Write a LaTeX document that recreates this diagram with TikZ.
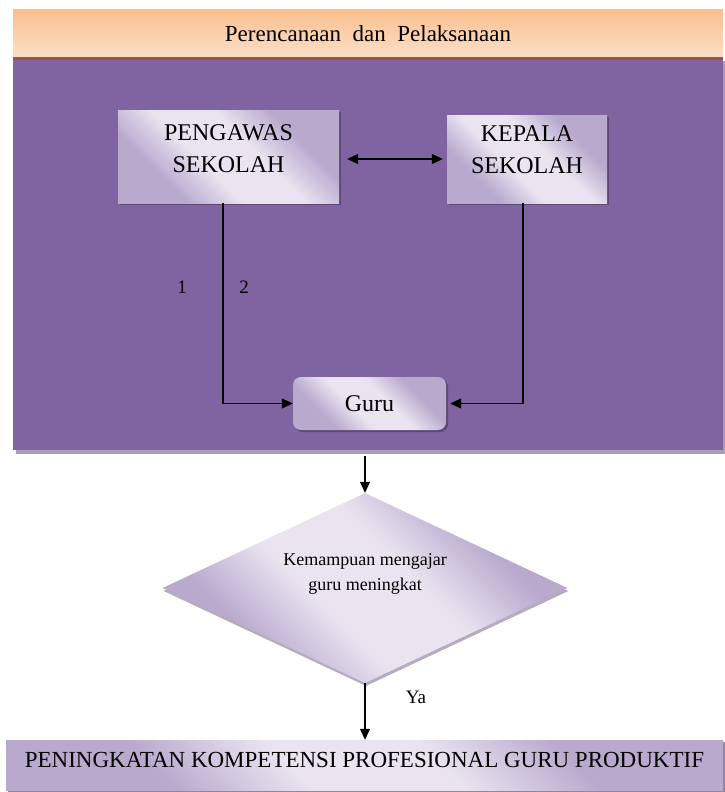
\documentclass[tikz,border=0pt]{standalone}
\usepackage{fontspec}
\setmainfont{Liberation Serif}
\usetikzlibrary{arrows.meta,shapes.geometric,shadows}

\definecolor{ungu}{RGB}{128,100,162}
\definecolor{lavterang}{RGB}{233,228,240}
\definecolor{lavgelap}{RGB}{184,169,205}
\definecolor{persik}{RGB}{250,192,144}
\definecolor{persikmuda}{RGB}{253,236,222}
\definecolor{coklat}{RGB}{152,86,70}
\definecolor{bayang}{RGB}{166,158,180}

\pgfdeclarehorizontalshading{lavender}{100bp}{%
  color(0bp)=(lavgelap); color(30bp)=(lavgelap); color(43bp)=(lavterang);
  color(57bp)=(lavterang); color(70bp)=(lavgelap); color(100bp)=(lavgelap)}

\begin{document}
\begin{tikzpicture}[x=1pt,y=-1pt,
    font=\fontsize{24}{32}\selectfont,
    >={Triangle[length=11pt,width=10pt]},
    panel/.style={rectangle,fill=ungu,inner sep=0pt,
                  drop shadow={shadow xshift=3pt,shadow yshift=-4pt,
                               fill=bayang,opacity=1}},
    judul/.style={rectangle,inner sep=0pt,top color=persik,
                  middle color=persikmuda,bottom color=persikmuda!70!persik,
                  font=\fontsize{23}{28}\selectfont,
                  drop shadow={shadow xshift=0pt,shadow yshift=-3.5pt,
                               fill=coklat,opacity=1}},
    kotak/.style={rectangle,inner sep=0pt,shading=lavender,shading angle=45,
                  drop shadow={shadow xshift=2pt,shadow yshift=-2pt,
                               fill=ungu!55!black,opacity=.6}},
    wajik/.style={diamond,inner sep=0pt,shading=lavender,shading angle=45,
                  drop shadow={shadow xshift=1pt,shadow yshift=-3pt,
                               fill=ungu!70!black,opacity=.45}},
    isi/.style={align=center},
    garis/.style={line width=1.1pt},
    angka/.style={font=\fontsize{19}{22}\selectfont}]

  \useasboundingbox (0,0) rectangle (724,792);

  % ---- latar ungu dan pita judul -------------------------------------------
  \node[panel,minimum width=710pt,minimum height=393pt] (panel) at (368,253.5) {};
  \node[judul,minimum width=710pt,minimum height=47pt] (judul) at (368,33.5)
        {Perencanaan\ \ dan\ \ Pelaksanaan};

  % ---- kotak-kotak di dalam panel ------------------------------------------
  \node[kotak,minimum width=221pt,minimum height=93pt,
        label={[isi,yshift=8pt]center:PENGAWAS\\SEKOLAH}] (pengawas) at (228.5,156.5) {};
  \node[kotak,minimum width=160pt,minimum height=88pt,
        label={[isi,yshift=9pt]center:KEPALA\\SEKOLAH}] (kepala) at (527,159) {};
  \node[kotak,rounded corners=8pt,minimum width=153pt,minimum height=53pt]
        (guru) at (369.5,403.5) {Guru};

  \node[angka] (satu) at (182,287) {1};
  \node[angka] (dua)  at (244,287) {2};

  % ---- keputusan dan hasil -------------------------------------------------
  \node[wajik,minimum width=405pt,minimum height=190pt,
        label={[isi,yshift=14pt,font=\fontsize{18}{25}\selectfont]center:Kemampuan mengajar\\guru meningkat}]
        (cek) at (365,588) {};
  \node[kotak,minimum width=717pt,minimum height=50pt,
        label={[isi,yshift=5pt,font=\fontsize{23}{28}\selectfont]center:PENINGKATAN KOMPETENSI PROFESIONAL GURU PRODUKTIF}]
        (hasil) at (364.5,765) {};
  \node[angka] (ya) at (416,697) {Ya};

  % ---- panah ---------------------------------------------------------------
  \draw[garis,<->,shorten <=8pt,shorten >=4pt] (pengawas.east |- kepala.west) -- (kepala.west);
  \draw[garis,->] ([xshift=-5.5pt]pengawas.south) |- (guru.west);
  \draw[garis,->,shorten >=4pt] ([xshift=-4pt]kepala.south) |- (guru.east);
  \draw[garis,->] ([yshift=-6pt]panel.south -| cek.north) -- (cek.north);
  \draw[garis,->] (cek.south) -- (cek.south |- hasil.north);

\end{tikzpicture}
\end{document}
